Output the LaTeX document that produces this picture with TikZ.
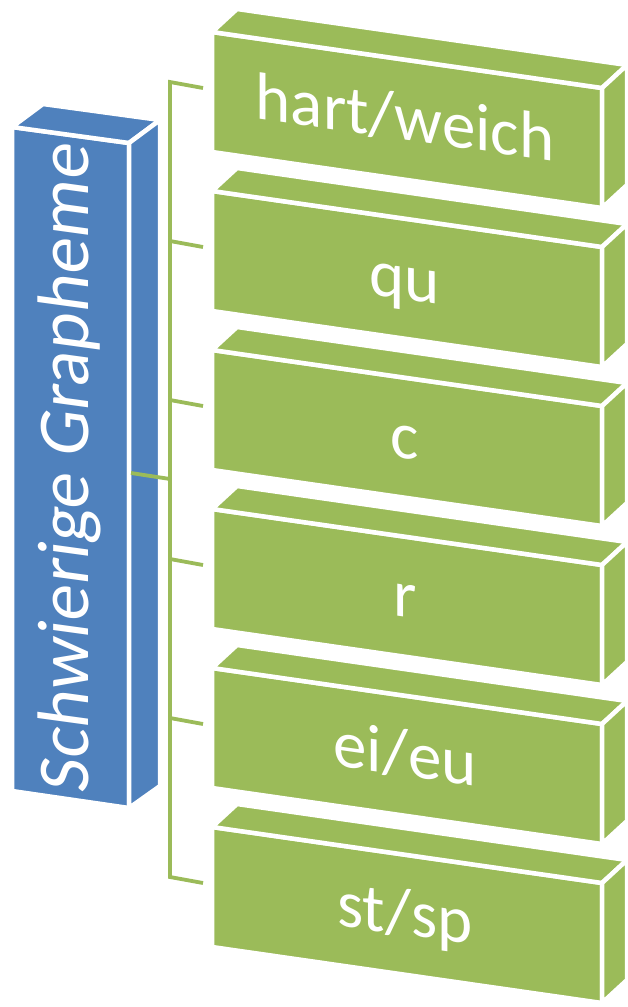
\documentclass[tikz,border=0pt]{standalone}
\usepackage{fontspec}
\setmainfont{Carlito}
\definecolor{gfill}{HTML}{9BBB59}
\definecolor{bfill}{HTML}{4F81BD}
\begin{document}
\begin{tikzpicture}[x=1pt,y=-1pt,
  face/.style={draw=white, line width=4.5pt, line join=miter},
  gface/.style={face, fill=gfill},
  bface/.style={face, fill=bfill},
  link/.style={draw=gfill, line width=3.8pt},
  lbl/.style={text=white, inner sep=0pt, anchor=base},
  glbl/.style={lbl, font=\fontsize{67}{67}\selectfont, cm={1,-0.141,0,1,(0,0)}},
  blbl/.style={lbl, font=\fontsize{73}{73}\selectfont, cm={0,1,-1,0.137,(0,0)}}]
\useasboundingbox (0,0) rectangle (628,1007);
% blue box
\coordinate (bFL) at (12,127);
\coordinate (bFR) at (129,143);
\coordinate (bBR) at (129,808);
\coordinate (bBL) at (12,791);
\coordinate (bTL) at (43,104);
\coordinate (bTR) at (160,120);
\coordinate (bSR) at (160,786);
\path[bface] (bFL) -- (bFR) -- (bBR) -- (bBL) -- cycle;
\path[bface] (bFL) -- (bFR) -- (bTR) -- (bTL) -- cycle;
\path[bface] (bFR) -- (bTR) -- (bSR) -- (bBR) -- cycle;
\node[blbl] (root) at (88,470) {Schwierige Grapheme};
% green boxes
\foreach \k/\t in {0/hart\slash weich,1/qu,2/c,3/r,4/ei\slash eu,5/st\slash sp}{
  \pgfmathsetmacro{\o}{159*\k}
  \coordinate (g\k FL) at (212,32+\o);
  \coordinate (g\k FR) at (602,88+\o);
  \coordinate (g\k BR) at (602,208+\o);
  \coordinate (g\k BL) at (212,152+\o);
  \coordinate (g\k TL) at (237,9+\o);
  \coordinate (g\k TR) at (627,65+\o);
  \coordinate (g\k SR) at (627,185+\o);
  \path[gface] (g\k FL) -- (g\k FR) -- (g\k BR) -- (g\k BL) -- cycle;
  \path[gface] (g\k FL) -- (g\k FR) -- (g\k TR) -- (g\k TL) -- cycle;
  \path[gface] (g\k FR) -- (g\k TR) -- (g\k SR) -- (g\k BR) -- cycle;
  \node[glbl] (n\k) at (405,140+\o) {\t};
  \coordinate (tk\k) at (170,82+\o);
  \coordinate (te\k) at (203,88+\o);
}
% bracket
\coordinate (bc) at (131,473);
\coordinate (bj) at (170,479);
\draw[link] (te0) -- (tk0) -- (tk5) -- (te5);
\foreach \k in {1,...,4}{\draw[link] (tk\k) -- (te\k);}
\draw[link] (bc) -- (bj);
\end{tikzpicture}
\end{document}
